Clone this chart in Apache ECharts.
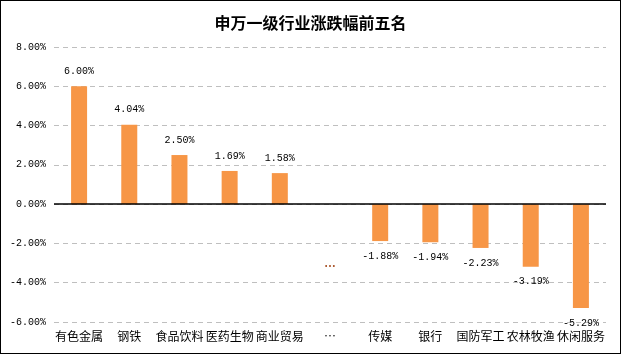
<!DOCTYPE html>
<html>
<head>
<meta charset="utf-8">
<script src="https://cdn.jsdelivr.net/npm/echarts@6/dist/echarts.min.js"></script>
<style>
  html, body { margin: 0; padding: 0; background: #fff; }
  #chart { width: 619px; height: 352px; border: 1px solid #000; }
</style>
</head>
<body>
<div id="chart"></div>
<script>
// 申万一级行业涨跌幅（%）
var categories = ['有色金属', '钢铁', '食品饮料', '医药生物', '商业贸易', '…', '传媒', '银行', '国防军工', '农林牧渔', '休闲服务'];
var changes = [6.00, 4.04, 2.50, 1.69, 1.58, null, -1.88, -1.94, -2.23, -3.19, -5.29];
// 省略号标记的位置
var ellipsisPoint = [['…', -3.05]];

var chart = echarts.init(document.getElementById('chart'));

var option = {
    animation: false,
    title: {
        text: '申万一级行业涨跌幅前五名',
        left: 'center',
        top: 9,
        textStyle: {
            fontFamily: 'Noto Sans CJK SC',
            fontSize: 16,
            fontWeight: 'bold',
            color: '#000'
        }
    },
    grid: {
        left: 53,
        right: 14,
        top: 46,
        bottom: 31
    },
    xAxis: {
        type: 'category',
        data: categories,
        axisLine: { show: false, onZero: false },
        axisTick: { show: false },
        axisLabel: {
            interval: 0,
            margin: 8,
            color: '#000',
            fontFamily: 'Noto Sans CJK SC',
            fontSize: 12
        }
    },
    yAxis: {
        type: 'value',
        min: -6,
        max: 8,
        interval: 2,
        axisLine: { show: false },
        axisTick: { show: false },
        axisLabel: {
            margin: 8,
            color: '#000',
            fontFamily: 'Liberation Mono',
            fontSize: 10,
            formatter: function (v) { return v.toFixed(2) + '%'; }
        },
        splitLine: {
            lineStyle: { color: '#bfbfbf', type: [5, 4] }
        }
    },
    series: [
        {
            type: 'bar',
            data: changes,
            barWidth: 16,
            itemStyle: { color: '#F79646' },
            label: {
                show: true,
                position: 'outside',
                distance: 10,
                color: '#000',
                fontFamily: 'Liberation Mono',
                fontSize: 10,
                formatter: function (p) { return p.value.toFixed(2) + '%'; }
            },
            markLine: {
                silent: true,
                symbol: 'none',
                label: { show: false },
                lineStyle: { color: '#000', type: 'solid', width: 1.5 },
                data: [{ yAxis: 0 }]
            }
        },
        {
            type: 'scatter',
            data: ellipsisPoint,
            symbolSize: 0,
            label: {
                show: true,
                position: 'inside',
                formatter: '…',
                color: '#993300',
                fontFamily: 'Liberation Sans',
                fontWeight: 'bold',
                fontSize: 12
            }
        }
    ]
};

chart.setOption(option);
</script>
</body>
</html>
